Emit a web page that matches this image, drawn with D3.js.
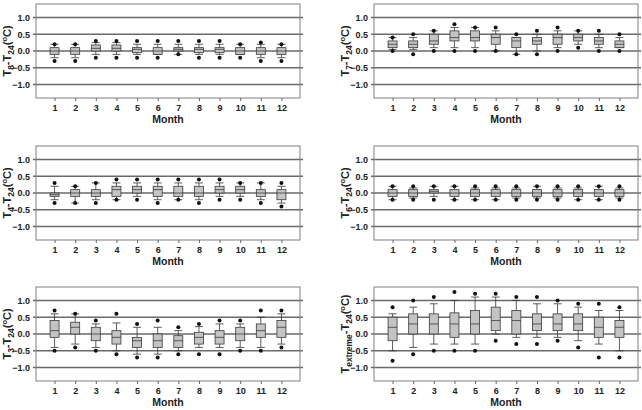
<!DOCTYPE html>
<html>
<head>
<meta charset="utf-8">
<script src="https://cdn.jsdelivr.net/npm/d3@7"></script>
<style>
  body { margin: 0; background: #fff; }
  svg text { font-family: "Liberation Sans", Arial, sans-serif; font-weight: bold; fill: #222; }
</style>
</head>
<body>
<div id="chart"></div>
<script>
// months on x, and y ticks shared by all panels
const months = [1, 2, 3, 4, 5, 6, 7, 8, 9, 10, 11, 12];
const yTicks = [-1.0, -0.5, 0.0, 0.5, 1.0];

// each row: [whiskerLow, q1, median, q3, whiskerHigh, dotLow, dotHigh]
const t8Stats = [
  [-0.2, -0.1, 0.0, 0.1, 0.2, -0.3, 0.2],
  [-0.2, -0.1, 0.0, 0.1, 0.2, -0.3, 0.2],
  [-0.1, 0.0, 0.08, 0.18, 0.25, -0.2, 0.3],
  [-0.1, 0.0, 0.08, 0.18, 0.25, -0.2, 0.3],
  [-0.1, -0.05, 0.05, 0.1, 0.2, -0.2, 0.3],
  [-0.1, -0.1, 0.0, 0.1, 0.2, -0.2, 0.3],
  [-0.1, 0.0, 0.05, 0.1, 0.2, -0.1, 0.3],
  [-0.1, -0.05, 0.05, 0.1, 0.2, -0.2, 0.3],
  [-0.1, -0.05, 0.05, 0.1, 0.2, -0.2, 0.3],
  [-0.1, -0.1, 0.0, 0.1, 0.2, -0.2, 0.2],
  [-0.2, -0.1, 0.0, 0.1, 0.2, -0.3, 0.25],
  [-0.2, -0.1, 0.0, 0.1, 0.2, -0.3, 0.2]
];
const t7Stats = [
  [0.05, 0.1, 0.2, 0.3, 0.4, 0.0, 0.4],
  [0.05, 0.1, 0.2, 0.3, 0.4, -0.1, 0.5],
  [0.1, 0.2, 0.3, 0.5, 0.6, 0.0, 0.6],
  [0.1, 0.3, 0.4, 0.6, 0.7, 0.0, 0.8],
  [0.1, 0.3, 0.4, 0.6, 0.7, 0.0, 0.7],
  [0.0, 0.2, 0.4, 0.5, 0.6, 0.0, 0.7],
  [-0.1, 0.1, 0.3, 0.4, 0.4, -0.1, 0.5],
  [0.0, 0.2, 0.3, 0.4, 0.5, -0.1, 0.6],
  [0.1, 0.2, 0.4, 0.5, 0.6, 0.0, 0.7],
  [0.2, 0.3, 0.4, 0.5, 0.6, 0.1, 0.6],
  [0.1, 0.2, 0.3, 0.4, 0.5, 0.0, 0.6],
  [0.1, 0.1, 0.2, 0.3, 0.4, 0.0, 0.5]
];
const t4Stats = [
  [-0.2, -0.1, -0.05, 0.0, 0.2, -0.3, 0.3],
  [-0.3, -0.1, 0.0, 0.1, 0.2, -0.3, 0.2],
  [-0.2, -0.1, 0.0, 0.1, 0.3, -0.3, 0.3],
  [-0.2, -0.1, 0.1, 0.2, 0.3, -0.2, 0.4],
  [-0.1, 0.0, 0.1, 0.2, 0.3, -0.2, 0.4],
  [-0.2, -0.1, 0.1, 0.2, 0.3, -0.3, 0.4],
  [-0.2, -0.1, 0.0, 0.2, 0.3, -0.2, 0.4],
  [-0.2, -0.1, 0.0, 0.2, 0.3, -0.3, 0.4],
  [-0.1, 0.0, 0.1, 0.2, 0.3, -0.2, 0.4],
  [-0.1, 0.0, 0.1, 0.2, 0.3, -0.2, 0.3],
  [-0.2, -0.1, 0.0, 0.1, 0.3, -0.3, 0.3],
  [-0.3, -0.2, 0.0, 0.1, 0.2, -0.4, 0.3]
];
const t6Stats = [
  [-0.2, -0.1, 0.0, 0.1, 0.2, -0.2, 0.2],
  [-0.15, -0.1, 0.0, 0.1, 0.15, -0.2, 0.2],
  [-0.1, 0.0, 0.05, 0.1, 0.2, -0.2, 0.2],
  [-0.2, -0.1, 0.0, 0.1, 0.2, -0.2, 0.2],
  [-0.2, -0.1, 0.0, 0.1, 0.15, -0.2, 0.2],
  [-0.2, -0.1, 0.0, 0.1, 0.15, -0.2, 0.2],
  [-0.15, -0.1, 0.0, 0.1, 0.15, -0.2, 0.2],
  [-0.15, -0.1, 0.0, 0.1, 0.2, -0.2, 0.2],
  [-0.15, -0.1, 0.0, 0.1, 0.15, -0.2, 0.2],
  [-0.2, -0.1, 0.0, 0.1, 0.15, -0.2, 0.2],
  [-0.2, -0.1, 0.0, 0.1, 0.2, -0.2, 0.2],
  [-0.15, -0.1, 0.0, 0.1, 0.15, -0.2, 0.2]
];
const t3Stats = [
  [-0.4, -0.1, 0.1, 0.4, 0.6, -0.5, 0.7],
  [-0.3, 0.0, 0.2, 0.35, 0.6, -0.4, 0.6],
  [-0.4, -0.2, 0.0, 0.2, 0.3, -0.5, 0.4],
  [-0.5, -0.3, -0.1, 0.1, 0.33, -0.6, 0.6],
  [-0.6, -0.4, -0.2, -0.1, 0.2, -0.7, 0.3],
  [-0.6, -0.4, -0.2, 0.0, 0.2, -0.7, 0.4],
  [-0.5, -0.4, -0.2, -0.05, 0.1, -0.6, 0.2],
  [-0.4, -0.3, -0.1, 0.05, 0.22, -0.6, 0.3],
  [-0.4, -0.3, -0.1, 0.1, 0.3, -0.6, 0.4],
  [-0.4, -0.2, 0.0, 0.2, 0.3, -0.5, 0.4],
  [-0.4, -0.1, 0.1, 0.3, 0.5, -0.5, 0.7],
  [-0.3, -0.1, 0.2, 0.4, 0.6, -0.4, 0.7]
];
const tExtremeStats = [
  [-0.5, -0.2, 0.2, 0.5, 0.6, -0.8, 0.8],
  [-0.4, 0.0, 0.3, 0.6, 0.8, -0.6, 1.0],
  [-0.3, 0.0, 0.3, 0.6, 0.9, -0.5, 1.1],
  [-0.3, -0.1, 0.3, 0.63, 1.0, -0.5, 1.25],
  [-0.3, 0.0, 0.3, 0.7, 1.1, -0.5, 1.2],
  [0.0, 0.1, 0.4, 0.8, 1.1, -0.2, 1.2],
  [-0.1, 0.0, 0.4, 0.7, 1.0, -0.3, 1.1],
  [-0.1, 0.1, 0.3, 0.6, 0.9, -0.3, 1.1],
  [-0.1, 0.1, 0.3, 0.6, 0.9, -0.2, 1.0],
  [-0.2, 0.1, 0.3, 0.6, 0.8, -0.4, 0.9],
  [-0.3, -0.1, 0.2, 0.5, 0.7, -0.7, 0.9],
  [-0.5, -0.1, 0.2, 0.4, 0.7, -0.7, 0.8]
];

// y-axis titles: main letter, subscript, then the rest
const panels = [
  { stats: t8Stats, sub1: '8', col: 0, row: 0 },
  { stats: t7Stats, sub1: '7', col: 1, row: 0 },
  { stats: t4Stats, sub1: '4', col: 0, row: 1 },
  { stats: t6Stats, sub1: '6', col: 1, row: 1 },
  { stats: t3Stats, sub1: '3', col: 0, row: 2 },
  { stats: tExtremeStats, sub1: 'extreme', col: 1, row: 2 }
];

const W = 642, H = 410;
const lefts = [36, 374];
const tops = [4, 146, 287];
const pw = 264, ph = 94;

const svg = d3.select('#chart').append('svg')
  .attr('width', W)
  .attr('height', H);

panels.forEach(p => {
  const g = svg.append('g')
    .attr('transform', `translate(${lefts[p.col]}, ${tops[p.row]})`);

  const x = d3.scaleLinear().domain([0.1, 12.9]).range([0, pw]);
  const y = d3.scaleLinear().domain([-1.4, 1.4]).range([ph, 0]);

  // gridlines (poke out a little on both sides like ticks)
  g.selectAll('.grid')
    .data(yTicks)
    .enter().append('line')
    .attr('class', 'grid')
    .attr('x1', -3).attr('x2', pw + 3)
    .attr('y1', d => y(d)).attr('y2', d => y(d))
    .style('stroke', '#6a6a6a')
    .style('stroke-width', 1.4);

  // frame
  g.append('rect')
    .attr('width', pw).attr('height', ph)
    .style('fill', 'none')
    .style('stroke', '#808080')
    .style('stroke-width', 1);

  // y tick labels
  const yAxis = g.append('g')
    .call(d3.axisLeft(y).tickValues(yTicks).tickSize(0).tickPadding(6)
      .tickFormat(d3.format('.1f')));
  yAxis.select('.domain').remove();
  yAxis.selectAll('text').style('font-size', '9px');

  // x axis ticks
  const xAxis = g.append('g')
    .attr('transform', `translate(0, ${ph})`)
    .call(d3.axisBottom(x).tickValues(months).tickSize(3).tickPadding(4)
      .tickFormat(d => d));
  xAxis.select('.domain').remove();
  xAxis.selectAll('line').style('stroke', '#666');
  xAxis.selectAll('text').style('font-size', '9px');

  g.append('text')
    .attr('x', pw / 2)
    .attr('y', ph + 25)
    .attr('text-anchor', 'middle')
    .style('font-size', '10.5px')
    .text('Month');

  // y title with sub/superscripts
  const t = g.append('text')
    .attr('transform', `translate(${-25}, ${ph / 2}) rotate(-90)`)
    .attr('text-anchor', 'middle')
    .style('font-size', '11px');
  t.append('tspan').text('T');
  t.append('tspan').attr('dy', 3).style('font-size', '8.5px').text(p.sub1);
  t.append('tspan').attr('dy', -3).text('-T');
  t.append('tspan').attr('dy', 3).style('font-size', '8.5px').text('24');
  t.append('tspan').attr('dy', -3).text('(');
  t.append('tspan').attr('dy', -4).style('font-size', '7.5px').text('o');
  t.append('tspan').attr('dy', 4).text('C)');

  const bw = 9, cw = 8;
  const box = g.selectAll('.box')
    .data(p.stats)
    .enter().append('g')
    .attr('class', 'box')
    .attr('transform', (d, i) => `translate(${x(months[i])}, 0)`);

  // whiskers
  box.append('line')
    .attr('y1', d => y(d[0])).attr('y2', d => y(d[1]))
    .style('stroke', '#333').style('stroke-width', 0.8);
  box.append('line')
    .attr('y1', d => y(d[3])).attr('y2', d => y(d[4]))
    .style('stroke', '#333').style('stroke-width', 0.8);
  box.append('line')
    .attr('x1', -cw / 2).attr('x2', cw / 2)
    .attr('y1', d => y(d[0])).attr('y2', d => y(d[0]))
    .style('stroke', '#333').style('stroke-width', 0.8);
  box.append('line')
    .attr('x1', -cw / 2).attr('x2', cw / 2)
    .attr('y1', d => y(d[4])).attr('y2', d => y(d[4]))
    .style('stroke', '#333').style('stroke-width', 0.8);

  box.append('rect')
    .attr('x', -bw / 2).attr('width', bw)
    .attr('y', d => y(d[3]))
    .attr('height', d => y(d[1]) - y(d[3]))
    .style('fill', '#c4c4c4')
    .style('stroke', '#3a3a3a')
    .style('stroke-width', 0.8);

  box.append('line')
    .attr('x1', -bw / 2).attr('x2', bw / 2)
    .attr('y1', d => y(d[2])).attr('y2', d => y(d[2]))
    .style('stroke', '#3a3a3a').style('stroke-width', 0.8);

  box.append('circle')
    .attr('r', 2)
    .attr('cy', d => y(d[5]))
    .style('fill', '#111');
  box.append('circle')
    .attr('r', 2)
    .attr('cy', d => y(d[6]))
    .style('fill', '#111');
});
</script>
</body>
</html>
